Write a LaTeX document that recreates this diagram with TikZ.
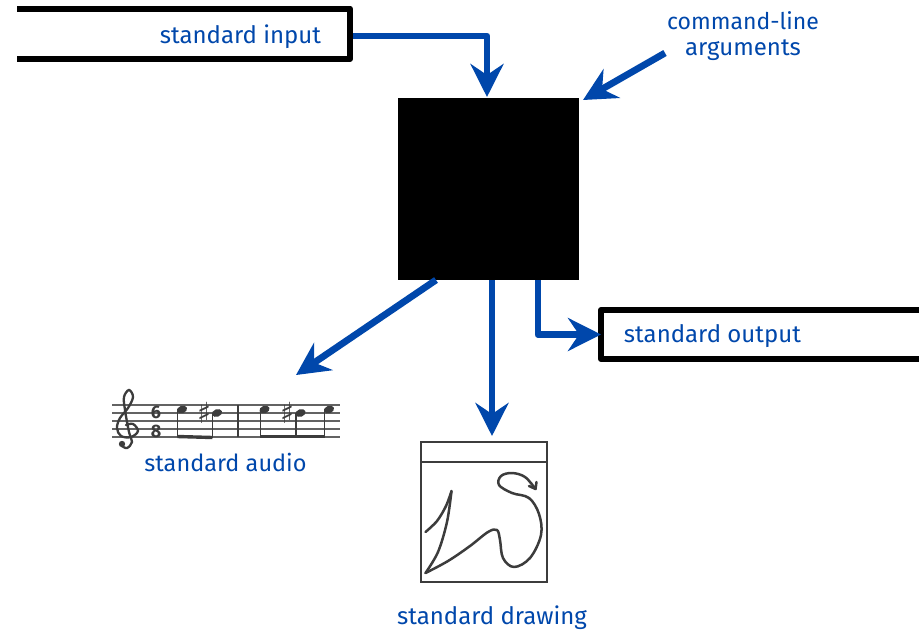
\documentclass[tikz,border=0pt]{standalone}
\usepackage{fontspec}
\setmainfont{Fira Sans}
\newfontfamily\symfont{DejaVu Sans}
\usetikzlibrary{arrows.meta,shapes.geometric}
\definecolor{flow}{RGB}{0,71,171}
\definecolor{ink}{RGB}{60,60,60}
\tikzset{
  x=1pt,y=-1pt,
  flowline/.style={draw=flow,line width=6.8pt,line join=round,-{Stealth[length=33pt,width=33pt,inset=11pt]}},
  label/.style={text=flow,inner sep=0pt,font=\fontsize{24}{27}\selectfont,align=center},
  iobox/.style={draw=black,line width=6pt,line join=round},
  ghost/.style={inner sep=0pt,outer sep=0pt,anchor=north west},
  staff/.style={draw=ink!80,line width=1.3pt},
  stem/.style={draw=ink,line width=1.8pt},
  beam/.style={draw=ink,line width=3.4pt},
  head/.style={fill=ink,draw=none,rotate=20,ellipse,minimum width=10.5pt,minimum height=7.5pt,inner sep=0pt},
  sheet/.style={draw=ink,line width=2.6pt},
  sketch/.style={draw=ink,line width=2.5pt,line join=round,line cap=round},
  sig/.style={text=ink,inner sep=0pt,font=\bfseries\fontsize{18}{18}\selectfont},
  sharp/.style={text=ink,inner sep=0pt,font=\symfont\fontsize{29}{29}\selectfont}
}
\begin{document}
\begin{tikzpicture}
\useasboundingbox (0,0) rectangle (919,630);
% black box
\node[ghost,fill=black,minimum width=181pt,minimum height=182pt] (prog) at (398,98) {};
% input and output boxes
\node[ghost,minimum width=333pt,minimum height=50.5pt] (inbox) at (17,8.5) {};
\draw[iobox] (inbox.north west) -- (inbox.north east) -- (inbox.south east) -- (inbox.south west);
\node[ghost,minimum width=318pt,minimum height=49pt] (outbox) at (601,310) {};
\draw[iobox] (outbox.north east) -- (outbox.north west) -- (outbox.south west) -- (outbox.south east);
% labels
\node[label] (tin) at (240.5,36.5) {standard input};
\node[label] (tout) at (712.5,336.5) {standard output};
\node[label] (targs) at (743,36.5) {\fontsize{23}{25}\selectfont command-line\\[-1pt]\fontsize{24}{25}\selectfont arguments};
\node[label,font=\fontsize{23.5}{27}\selectfont] (taudio) at (225.5,462.5) {standard audio};
\node[label] (tdraw) at (492,617.5) {standard drawing};
% free ends
\coordinate (argstail) at (665,53);
\coordinate (argshead) at (583,100);
\coordinate (audiotail) at (436,280);
\coordinate (audiohead) at (296,375);
\coordinate (drawtail) at (492,280);
\coordinate (drawhead) at (492,436);
\coordinate (outtail) at (538,280);
\coordinate (inbend) at (487,36);
\coordinate (inhead) at (487,97);
\coordinate (outbend) at (538,334.5);
% connectors
\draw[flowline] (inbox.east |- inbend) ++(3,0) -- (inbend) -- (inhead);
\draw[flowline] (argstail) -- (argshead);
\draw[flowline] (audiotail) -- (audiohead);
\draw[flowline] (drawtail) -- (drawhead);
\draw[flowline] (outtail) -- (outbend) -- (outbox.west);
% staff
\foreach \y in {405,413,421,429,437} \draw[staff] (112,\y) -- (340,\y);
\draw[stem] (238,405) -- (238,437);
\draw[draw=ink,line width=2.3pt,line cap=round] plot[smooth,tension=0.6] coordinates {(126,425) (133,424) (138,431) (131,437) (121,436) (117,428) (120,418) (128,408) (133,397) (129,390) (124,397) (125,410) (129,432) (132,442) (127,448) (122,446)};
\fill[ink] (122,444) circle (3.2);
\node[sig] (six) at (156,412) {6};
\node[sig] (eight) at (156,431) {8};
\node[sharp] (s1) at (205,413) {♯};
\node[sharp] (s2) at (288,413) {♯};
\node[head] (n1) at (182,409.5) {};
\node[head] (n2) at (217,413) {};
\node[head] (n3) at (264.5,409.5) {};
\node[head] (n4) at (300.5,413) {};
\node[head] (n5) at (329,409.5) {};
\draw[stem] (177.5,409) -- (177.5,437);
\draw[stem] (212.5,413) -- (212.5,438);
\draw[stem] (260.5,409) -- (260.5,437);
\draw[stem] (296,413) -- (296,437);
\draw[stem] (324.5,409) -- (324.5,437);
\draw[beam] (177.5,436.5) -- (212.5,437.5);
\draw[beam] (260,436.5) -- (325,436.5);
% drawing window
\node[ghost,sheet,minimum width=126pt,minimum height=140pt] (window) at (421,442) {};
\draw[sheet] (421,462) -- (547,462);
\draw[sketch] plot[smooth,tension=0.55] coordinates {(425.5,532) (437,521) (446,506) (451.5,491)};
\draw[sketch] plot[smooth,tension=0.55] coordinates {(451.5,491) (447,522) (438,552) (425.5,573)};
\draw[sketch] plot[smooth,tension=0.6] coordinates {(425.5,573) (448,561) (470,546) (488,532) (497,530) (500,540) (503,558) (514,567) (530,558) (541,535) (539,514) (529,498) (512,493) (499,485) (501,476) (512,473) (525,477) (535.5,489)};
\draw[sketch] (536.5,482) -- (535.5,489) -- (529,486);
\end{tikzpicture}
\end{document}
